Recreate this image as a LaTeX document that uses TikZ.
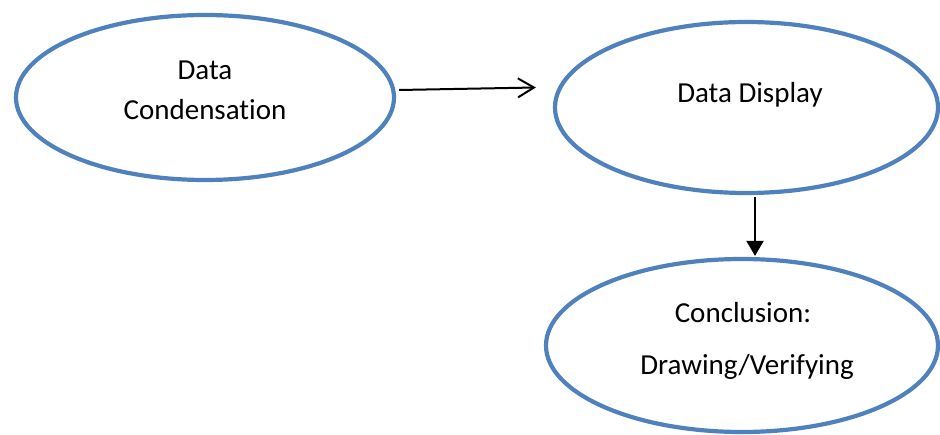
\documentclass[tikz,border=0pt]{standalone}
\usepackage{fontspec}
\setmainfont[Ligatures=NoCommon]{Carlito}
\usetikzlibrary{shapes.geometric,arrows.meta,calc}
\definecolor{stageblue}{HTML}{4F81BD}

\begin{document}
\begin{tikzpicture}[x=1pt,y=-1pt,
    stage/.style={ellipse,draw=stageblue,line width=4.2pt,inner sep=0pt},
    caption/.style={anchor=base,font=\fontsize{29}{35}\selectfont},
    flow/.style={line width=2pt,black}]
  \useasboundingbox (0,0) rectangle (940,435);
  % the three stages
  \node[stage,minimum width=378pt,minimum height=165pt] (condensation) at (205,97.5) {};
  \node[stage,minimum width=383pt,minimum height=171pt] (display) at (746.5,107.5) {};
  \node[stage,minimum width=392pt,minimum height=173pt] (conclusion) at (742,345.5) {};
  % their texts
  \node[caption] (condensation-1) at (205,80) {Data};
  \node[caption] (condensation-2) at (205,120) {Condensation};
  \node[caption] (display-1) at (750,103) {Data Display};
  \node[caption] (conclusion-1) at (743,323) {Conclusion:};
  \node[caption] (conclusion-2) at (747,375) {Drawing/Verifying};
  % connectors
  \draw[flow,-{Straight Barb[length=16pt,width=19pt,line width=2pt]}]
    ($(condensation.east)+(3,-7.5)$) -- ($(display.west)+(-17,-20)$);
  \draw[flow,-{Triangle[length=15pt,width=17pt]}]
    ($(display.south)+(8.5,2)$) -- ($(conclusion.north)+(13,-1)$);
\end{tikzpicture}
\end{document}
